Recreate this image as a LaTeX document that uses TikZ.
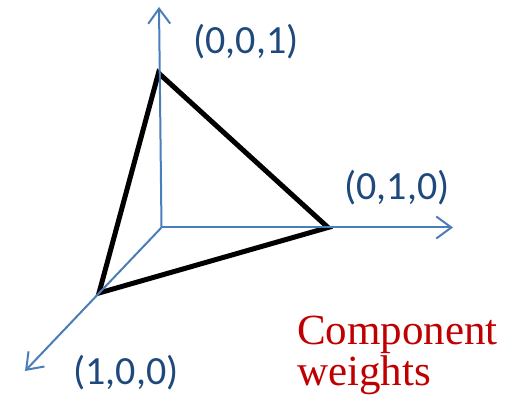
\documentclass[tikz,border=0pt]{standalone}
\usepackage{fontspec}
\setmainfont{Liberation Serif}
\newfontfamily\carlito{Carlito}
\usetikzlibrary{arrows.meta}
\definecolor{axisblue}{HTML}{4A7EBB}
\definecolor{labelblue}{HTML}{1F497D}
\definecolor{darkred}{HTML}{C00000}
\tikzset{
  axis/.style={draw=axisblue, line width=2pt, -{Straight Barb[length=15pt,width=22pt,line width=2pt]}},
  tri/.style={draw=black, line width=5pt, line join=miter},
  coordlabel/.style={text=labelblue, font=\carlito\fontsize{40}{48}\selectfont, inner sep=0pt},
  note/.style={text=darkred, font=\fontsize{43}{41}\selectfont, inner sep=0pt, align=left}
}
\begin{document}
\begin{tikzpicture}[x=1pt,y=-1pt]
\useasboundingbox (0,0) rectangle (514,406);
\coordinate (O) at (161.5,227.5);
\coordinate (Z) at (159,7);
\coordinate (Y) at (453,227.5);
\coordinate (X) at (25,371);
\coordinate (A) at (158.5,73);
\coordinate (B) at (328,227.5);
\coordinate (C) at (99,293);
\draw[tri] (A) -- (B) -- (C) -- cycle;
\draw[axis] (O) -- (Z);
\draw[axis] (O) -- (Y);
\draw[axis] (O) -- (X);
\node[coordlabel] (lz) at (246,42) {(0,0,1)};
\node[coordlabel] (ly) at (397,188) {(0,1,0)};
\node[coordlabel] (lx) at (126,373) {(1,0,0)};
\node[note, anchor=north west] (cw) at (297,316) {Component\\weights};
\end{tikzpicture}
\end{document}
